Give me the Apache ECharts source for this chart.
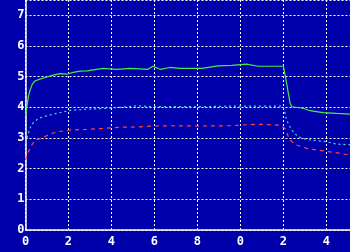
<!DOCTYPE html>
<html><head><meta charset="utf-8">
<script src="https://cdn.jsdelivr.net/npm/echarts@6/dist/echarts.min.js"></script>
<style>html,body{margin:0;padding:0;background:#0000AA;}#c{width:350px;height:252px;}</style>
</head><body><div id="c"></div>
<script>
var xTickLabels = ["0","2","4","6","8","0","2","4"];
var yTickLabels = ["0","1","2","3","4","5","6","7"];
var greenT = [0,0.13,0.21,0.32,0.44,0.67,0.99,1.29,1.61,1.92,2.22,2.54,2.85,3.61,4.24,4.86,5.70,5.93,6.26,6.72,7.19,8.20,8.96,9.60,10.29,10.82,12.0,12.08,12.15,12.23,12.31,12.39,12.91,13.24,13.84,14.48,15.1];
var greenV = [3.7,4.34,4.56,4.76,4.86,4.92,4.99,5.05,5.10,5.08,5.14,5.18,5.19,5.27,5.24,5.27,5.24,5.34,5.24,5.30,5.27,5.27,5.35,5.37,5.41,5.34,5.34,5.05,4.79,4.46,4.14,4.02,3.97,3.89,3.83,3.80,3.78];
var cyanT = [0,0.21,0.34,0.60,0.83,1.29,1.76,2.07,2.85,3.61,4.40,5.17,5.93,6.72,8.12,9.52,10.91,11.98,12.08,12.15,12.31,12.46,12.69,13.09,14.0,14.48,15.1];
var cyanV = [2.85,3.32,3.48,3.64,3.69,3.78,3.85,3.90,3.94,3.96,4.00,4.05,4.02,4.02,4.02,4.04,4.04,4.04,3.80,3.58,3.36,3.20,3.04,2.95,2.88,2.80,2.78];
var redT = [0,0.06,0.13,0.29,0.44,0.83,1.14,1.45,1.76,2.07,2.85,3.61,4.40,5.17,5.93,6.72,8.12,9.52,10.76,11.84,12.08,12.23,12.39,12.62,13.09,13.55,14.17,14.63,15.1];
var redV = [2.28,2.44,2.55,2.77,2.93,3.02,3.13,3.20,3.23,3.26,3.28,3.31,3.35,3.36,3.39,3.40,3.39,3.40,3.45,3.42,3.31,3.04,2.88,2.77,2.66,2.61,2.55,2.50,2.44];

function pairs(t, v){ return t.map(function(x,i){ return [x, v[i]]; }); }

var chart = echarts.init(document.getElementById('c'), null, {renderer:'canvas'});
chart.setOption({
  backgroundColor: '#0000AA',
  animation: false,
  grid: {left: 25.5, right: 0, top: 0, bottom: 22, containLabel: false},
  xAxis: {
    type: 'value', min: 0, max: 15.1, interval: 2,
    axisLine: {show: true, lineStyle: {color: '#ffffff', width: 1.5}},
    axisTick: {show: false},
    splitLine: {show: true, lineStyle: {color: '#ffffff', type: [2,2], width: 1}},
    axisLabel: {color: '#ffffff', fontWeight: 'bold', fontSize: 12, fontFamily: 'DejaVu Sans Mono', margin: 6, showMaxLabel: false,
      formatter: function(v){ var i = Math.round(v/2); return xTickLabels[i] !== undefined ? xTickLabels[i] : ''; }}
  },
  yAxis: {
    type: 'value', min: 0, max: 7.5, interval: 1,
    axisLine: {show: true, lineStyle: {color: '#ffffff', width: 1.5}},
    axisTick: {show: false},
    splitLine: {show: true, lineStyle: {color: '#ffffff', type: [2,2], width: 1}},
    axisLabel: {color: '#ffffff', fontWeight: 'bold', fontSize: 12, fontFamily: 'DejaVu Sans Mono', margin: 1, showMaxLabel: false,
      formatter: function(v){ var i = Math.round(v); return yTickLabels[i] !== undefined ? yTickLabels[i] : ''; }}
  },
  series: [
    {type: 'line', data: pairs(greenT, greenV), showSymbol: false, lineStyle: {color: '#44ee44', width: 1.2}, z: 3},
    {type: 'line', data: pairs(cyanT, cyanV), showSymbol: false, lineStyle: {color: '#44dddd', width: 1.2, type: [2,3]}, z: 3},
    {type: 'line', data: pairs(redT, redV), showSymbol: false, lineStyle: {color: '#ff4444', width: 1.2, type: [4,4]}, z: 3}
  ]
});
</script></body></html>
